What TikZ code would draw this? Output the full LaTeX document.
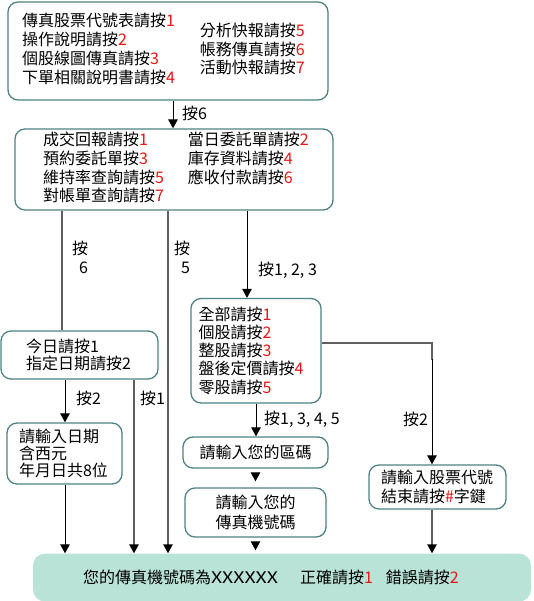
\documentclass[tikz,border=0pt]{standalone}
\usepackage{fontspec}
\setmainfont{Noto Sans CJK TC}
\usetikzlibrary{arrows.meta,positioning,calc}
\definecolor{rim}{RGB}{80,130,130}
\definecolor{hot}{RGB}{235,20,20}
\definecolor{wire}{RGB}{95,95,95}
\definecolor{mint}{RGB}{184,227,214}
\newcommand\keynum[1]{\textcolor{hot}{#1}}
\tikzset{
  menu/.style={draw=rim,line width=1.3pt,rounded corners=10pt,fill=white,
    align=left,inner ysep=0pt,font=\fontsize{16}{18.3}\selectfont},
  endbox/.style={fill=mint,rounded corners=12pt,inner ysep=0pt,align=left,
    font=\fontsize{16}{18.3}\selectfont},
  arr/.style={-{Triangle[length=9pt,width=9.5pt]},line width=1pt,black},
  gline/.style={line width=1.4pt,wire},
  garr/.style={gline,-{Triangle[length=9pt,width=9.5pt,color=black]}},
  lbl/.style={font=\fontsize{16}{19}\selectfont,inner sep=0pt,align=right},
}
\begin{document}
\begin{tikzpicture}[x=1pt,y=-1pt]
  \useasboundingbox (0,0) rectangle (533,601);
  \node[menu,inner xsep=14pt,text width=292pt,minimum height=98pt] (main) at (168,51)
    {\begin{tabular}[c]{@{}l@{}}傳真股票代號表請按\keynum{1}\\操作說明請按\keynum{2}\\
      個股線圖傳真請按\keynum{3}\\下單相關說明書請按\keynum{4}\end{tabular}\hspace{25pt}%
     \begin{tabular}[c]{@{}l@{}}分析快報請按\keynum{5}\\帳務傳真請按\keynum{6}\\
      活動快報請按\keynum{7}\end{tabular}};
  \node[menu,inner xsep=28pt,text width=262pt,minimum height=81pt] (acct) at (174,169.5)
    {\fontsize{16}{18}\selectfont\makebox[262pt][l]{%
     \begin{tabular}[t]{@{}l@{}}成交回報請按\keynum{1}\\預約委託單按\keynum{3}\\
      維持率查詢請按\keynum{5}\\對帳單查詢請按\keynum{7}\end{tabular}\hspace{24pt}%
     \begin{tabular}[t]{@{}l@{}}當日委託單請按\keynum{2}\\庫存資料請按\keynum{4}\\
      應收付款請按\keynum{6}\end{tabular}}};
  \node[menu,inner xsep=25pt,text width=107pt,minimum height=48pt,
    font=\fontsize{16}{17}\selectfont] (day) at (79.5,355)
    {今日請按1\\指定日期請按2};
  \node[menu,inner xsep=7.5pt,text width=115pt,minimum height=104.5pt,
    font=\fontsize{16}{18.2}\selectfont] (kind) at (256,350.75)
    {全部請按\keynum{1}\\個股請按\keynum{2}\\整股請按\keynum{3}\\
     盤後定價請按\keynum{4}\\零股請按\keynum{5}};
  \node[menu,inner xsep=12pt,text width=91pt,minimum height=61pt,
    font=\fontsize{16}{17}\selectfont] (date) at (64.5,453.5)
    {請輸入日期\\含西元\\年月日共8位};
  \node[menu,align=center,inner xsep=8pt,text width=129pt,minimum height=31pt]
    (area) at (255.5,452.5) {請輸入您的區碼};
  \node[menu,align=center,inner xsep=8pt,text width=125pt,minimum height=49pt,
    font=\fontsize{16}{19.5}\selectfont] (fax) at (255.5,512.5)
    {請輸入您的\\傳真機號碼};
  \node[menu,inner xsep=12pt,text width=113pt,minimum height=44pt] (code) at (437.5,487)
    {請輸入股票代號\\結束請按\keynum{\#}字鍵};
  \node[endbox,inner xsep=50pt,text width=398pt,minimum height=48pt] (done) at (282,577.5)
    {您的傳真機號碼為\scalebox{1.22}[1]{XXXXXX}\hspace{22pt}正確請按\keynum{1}\hspace{13pt}錯誤請按\keynum{2}};

  \draw[arr] (main.south -| 173,0) -- (acct.north -| 173,0);
  \draw[gline] (acct.south -| 62,0) -- (day.north -| 62,0);
  \draw[garr] (acct.south -| 168,0) -- (done.north -| 168,0);
  \draw[arr] (acct.south -| 247,0) -- (kind.north -| 247,0);
  \draw[arr] (day.south -| 65,0) -- (date.north -| 65,0);
  \draw[garr] (day.south -| 134,0) -- (done.north -| 134,0);
  \draw[arr] (date.south -| 65,0) -- (done.north -| 65,0);
  \draw[arr] (kind.south -| 256,0) -- (area.north -| 256,0);
  \draw[gline] (kind.east |- 0,343) -| (432,360);
  \draw[arr] (432,359) -- (code.north -| 432,0);
  \draw[arr,shorten <=6pt,shorten >=6pt] (area) -- (fax);
  \draw[arr,shorten <=6pt,shorten >=3pt] (fax) -- (done.north -| fax);
  \draw[garr] (code.south -| 432,0) -- (done.north -| 432,0);

  \node[lbl,anchor=west] at (182,113) {按6};
  \node[lbl] at (80,257) {按\\6};
  \node[lbl] at (182,257) {按\\5};
  \node[lbl,anchor=west] at (258,270) {按1, 2, 3};
  \node[lbl,anchor=west] at (76,398) {按2};
  \node[lbl,anchor=west] at (140,398) {按1};
  \node[lbl,anchor=west] at (264,419) {按1, 3, 4, 5};
  \node[lbl,anchor=west] at (403,419) {按2};
\end{tikzpicture}
\end{document}
